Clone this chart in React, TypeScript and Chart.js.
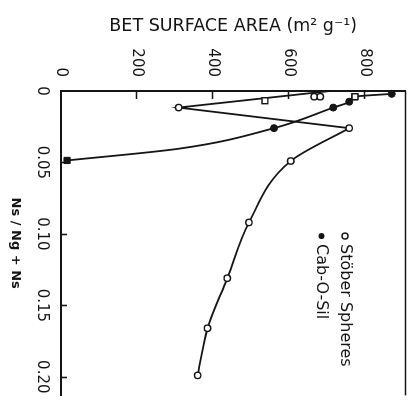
import React, { useEffect, useRef } from 'react';
import { Chart, registerables } from 'chart.js';

Chart.register(...registerables);

// Ns / (Ng + Ns) values and BET surface areas (m^2 g^-1)
const stoberNs = [0.0068, 0.004, 0.004, 0.004, 0.0116, 0.026, 0.049, 0.092, 0.131, 0.166, 0.199];
const stoberBet = [537, 667, 683, 774, 310, 759, 605, 495, 438, 386, 360];
const stoberStyles = ['rect', 'circle', 'circle', 'rect', 'circle', 'circle', 'circle', 'circle', 'circle', 'circle', 'circle'];

// Stöber trace: straight zig-zag part, then smooth part
const stoberZigNs = [0, 0.0116, 0.026];
const stoberZigBet = [709, 310, 759];
const stoberCurveNs = [0.026, 0.049, 0.092, 0.131, 0.166, 0.199];
const stoberCurveBet = [759, 605, 495, 438, 386, 360];

const cabNs = [0.002, 0.004, 0.0075, 0.0116, 0.026, 0.0486];
const cabBet = [871, 774, 759, 717, 561, 16];
const cabStyles = ['circle', 'rect', 'circle', 'circle', 'circle', 'rect'];

const cabCurveNs = [0.002, 0.004, 0.0075, 0.0116, 0.026, 0.0404, 0.0486];
const cabCurveBet = [871, 774, 759, 717, 561, 310, 16];

const nsTicks = [0, 0.05, 0.1, 0.15, 0.2];
const nsTickLabels = ['0', '0.05', '0.10', '0.15', '0.20'];
const betTicks = [0, 200, 400, 600, 800];
const betTickLabels = ['0', '200', '400', '600', '800'];

const legendLabels = ['Stöber Spheres', 'Cab-O-Sil'];

const INK = '#151515';
const FONT = "'DejaVu Sans', sans-serif";

const pts = (xs: number[], ys: number[]) => xs.map((x, i) => ({ x, y: ys[i] }));
const sizeFor = (styles: string[], circle: number, rect: number) =>
  styles.map((s) => (s === 'rect' ? rect : circle));

const innerTicks = {
  id: 'innerTicks',
  afterDraw(chart: any) {
    const { ctx, chartArea, scales } = chart;
    const x = scales.x;
    const y = scales.y;
    ctx.save();
    ctx.strokeStyle = INK;
    ctx.lineWidth = 1.6;
    ctx.beginPath();
    nsTicks.slice(1).forEach((v) => {
      const px = Math.round(x.getPixelForValue(v)) + 0.5;
      ctx.moveTo(px, chartArea.bottom);
      ctx.lineTo(px, chartArea.bottom - 6);
    });
    betTicks.slice(1).forEach((v) => {
      const py = Math.round(y.getPixelForValue(v)) + 0.5;
      ctx.moveTo(chartArea.left, py);
      ctx.lineTo(chartArea.left + 8, py);
    });
    ctx.stroke();
    // frame edge opposite the BET axis
    ctx.lineWidth = 1.5;
    ctx.beginPath();
    ctx.moveTo(chartArea.left, chartArea.top);
    ctx.lineTo(chartArea.right, chartArea.top);
    ctx.stroke();

    // legend
    const lx = x.getPixelForValue(0.1015);
    const rows = [y.getPixelForValue(748), y.getPixelForValue(686)];
    ctx.font = `16px ${FONT}`;
    ctx.textBaseline = 'middle';
    ctx.textAlign = 'left';
    ctx.fillStyle = INK;
    rows.forEach((ry, i) => {
      ctx.beginPath();
      ctx.arc(lx, ry, 3, 0, Math.PI * 2);
      if (i === 0) {
        ctx.fillStyle = '#fff';
        ctx.fill();
        ctx.lineWidth = 1.4;
        ctx.stroke();
      } else {
        ctx.fillStyle = INK;
        ctx.fill();
      }
      ctx.fillStyle = INK;
      ctx.fillText(legendLabels[i], lx + 8, ry);
    });
    ctx.restore();
  },
};

export default function App() {
  const ref = useRef<HTMLCanvasElement>(null);

  useEffect(() => {
    const canvas = ref.current;
    if (!canvas) return;
    const lineBase = {
      showLine: true,
      pointRadius: 0,
      pointHoverRadius: 0,
      borderColor: INK,
      borderWidth: 1.8,
      clip: false as const,
    };
    const chart = new Chart(canvas, {
      type: 'scatter',
      data: {
        datasets: [
          {
            label: legendLabels[0],
            data: pts(stoberNs, stoberBet),
            showLine: false,
            pointStyle: stoberStyles as any,
            pointRadius: sizeFor(stoberStyles, 3.2, 4.2),
            backgroundColor: '#fff',
            borderColor: INK,
            borderWidth: 1.4,
            clip: false as const,
          },
          {
            label: legendLabels[1],
            data: pts(cabNs, cabBet),
            showLine: false,
            pointStyle: cabStyles as any,
            pointRadius: sizeFor(cabStyles, 3.5, 4.4),
            backgroundColor: INK,
            borderColor: INK,
            borderWidth: 1,
            clip: false as const,
          },
          { ...lineBase, label: 'stober-zig', data: pts(stoberZigNs, stoberZigBet), tension: 0 },
          {
            ...lineBase,
            label: 'stober-curve',
            data: pts(stoberCurveNs, stoberCurveBet),
            cubicInterpolationMode: 'monotone' as const,
          },
          {
            ...lineBase,
            label: 'cab-curve',
            data: pts(cabCurveNs, cabCurveBet),
            cubicInterpolationMode: 'monotone' as const,
          },
        ],
      },
      options: {
        responsive: false,
        devicePixelRatio: 1,
        animation: false,
        events: [],
        layout: { padding: { top: 2, left: 0, right: 0, bottom: 0 } },
        plugins: {
          legend: { display: false },
          tooltip: { enabled: false },
        },
        scales: {
          x: {
            type: 'linear',
            position: 'bottom',
            min: 0,
            max: 0.213,
            afterBuildTicks: (s: any) => {
              s.ticks = nsTicks.map((v) => ({ value: v }));
            },
            afterFit: (s: any) => {
              s.height = 61;
              s.paddingLeft = 0;
              s.paddingRight = 0;
            },
            ticks: {
              callback: (v: any) => nsTickLabels[nsTicks.indexOf(Number(v))] ?? '',
              font: { family: FONT, size: 15 },
              color: INK,
              padding: 10,
              maxRotation: 0,
              minRotation: 0,
              autoSkip: false,
            },
            grid: { display: false, drawTicks: false },
            border: { display: true, color: INK, width: 2 },
            title: {
              display: true,
              text: 'Ns / Ng + Ns',
              font: { family: FONT, size: 13, weight: 'bold' },
              color: INK,
              padding: { top: 0, bottom: 8 },
            },
          },
          y: {
            type: 'linear',
            position: 'left',
            min: 0,
            max: 907,
            afterBuildTicks: (s: any) => {
              s.ticks = betTicks.map((v) => ({ value: v }));
            },
            afterFit: (s: any) => {
              s.width = 91;
              s.paddingTop = 0;
              s.paddingBottom = 0;
            },
            ticks: {
              callback: (v: any) => betTickLabels[betTicks.indexOf(Number(v))] ?? '',
              font: { family: FONT, size: 15 },
              color: INK,
              padding: 14,
              autoSkip: false,
            },
            grid: { display: false, drawTicks: false },
            border: { display: true, color: INK, width: 2 },
            title: {
              display: true,
              text: 'BET SURFACE AREA (m² g⁻¹)',
              font: { family: FONT, size: 17.5 },
              color: INK,
              padding: { top: 16, bottom: 0 },
            },
          },
        },
      },
      plugins: [innerTicks],
    });
    return () => chart.destroy();
  }, []);

  return (
    <div
      style={{
        position: 'fixed',
        left: 0,
        top: 0,
        width: 411,
        height: 401,
        overflow: 'hidden',
        background: '#fff',
      }}
    >
      <div
        style={{
          position: 'absolute',
          left: 0,
          top: 0,
          width: 401,
          height: 411,
          transformOrigin: '0 0',
          transform: 'translate(411px, 0px) rotate(90deg)',
        }}
      >
        <canvas ref={ref} width={401} height={411} style={{ display: 'block', width: 401, height: 411 }} />
      </div>
    </div>
  );
}
